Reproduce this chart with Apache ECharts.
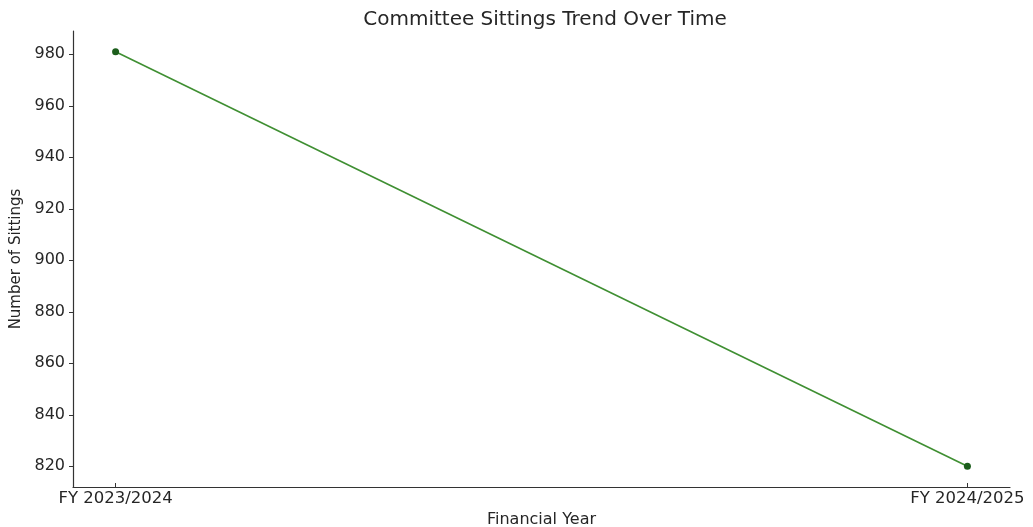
<!DOCTYPE html>
<html>
<head>
<meta charset="utf-8">
<script src="https://cdn.jsdelivr.net/npm/echarts@6/dist/echarts.min.js"></script>
<style>html,body{margin:0;padding:0;background:#fff}#c{width:1033px;height:527px}</style>
</head>
<body>
<div id="c"></div>
<script>
const categories = ['FY 2023/2024', 'FY 2024/2025'];
const sittings = [981, 820];
const yTicks = [820, 840, 860, 880, 900, 920, 940, 960, 980];
const xTicks = [0, 1];

const chart = echarts.init(document.getElementById('c'), null, {renderer: 'canvas'});
const font = 'DejaVu Sans';
const txt = '#262626';
chart.setOption({
  animation: false,
  backgroundColor: '#fff',
  title: {
    text: 'Committee Sittings Trend Over Time',
    left: 540, top: 5, textAlign: 'center',
    textStyle: {fontFamily: font, fontSize: 20, fontWeight: 'normal', color: txt}
  },
  grid: {left: 73, right: 23, top: 31, bottom: 40, containLabel: false, outerBoundsMode: 'none'},
  xAxis: {
    type: 'value', min: -0.05, max: 1.05,
    name: 'Financial Year', nameLocation: 'middle', nameGap: 21,
    nameTextStyle: {fontFamily: font, fontSize: 16, color: txt},
    axisLine: {show: true, onZero: false, lineStyle: {color: '#333', width: 1.2}},
    axisTick: {show: true, inside: true, length: 4, customValues: xTicks, lineStyle: {color: '#333'}},
    axisLabel: {customValues: xTicks, fontFamily: font, fontSize: 16.5, color: txt, margin: 3,
      formatter: v => categories[Math.round(v)]},
    splitLine: {show: false}
  },
  yAxis: {
    type: 'value', min: 811.95, max: 989.05,
    name: 'Number of Sittings', nameLocation: 'middle', nameGap: 48, nameRotate: 90,
    nameTextStyle: {fontFamily: font, fontSize: 15, color: txt},
    axisLine: {show: true, onZero: false, lineStyle: {color: '#333', width: 1.2}},
    axisTick: {show: true, length: 4, customValues: yTicks, lineStyle: {color: '#333'}},
    axisLabel: {customValues: yTicks, fontFamily: font, fontSize: 16, color: txt, margin: 8},
    splitLine: {show: false}
  },
  series: [{
    type: 'line',
    data: sittings.map((v, i) => [i, v]),
    symbol: 'circle', symbolSize: 7,
    lineStyle: {color: '#3f8f32', width: 1.6},
    itemStyle: {color: '#1c5e1c'}
  }]
});
</script>
</body>
</html>
